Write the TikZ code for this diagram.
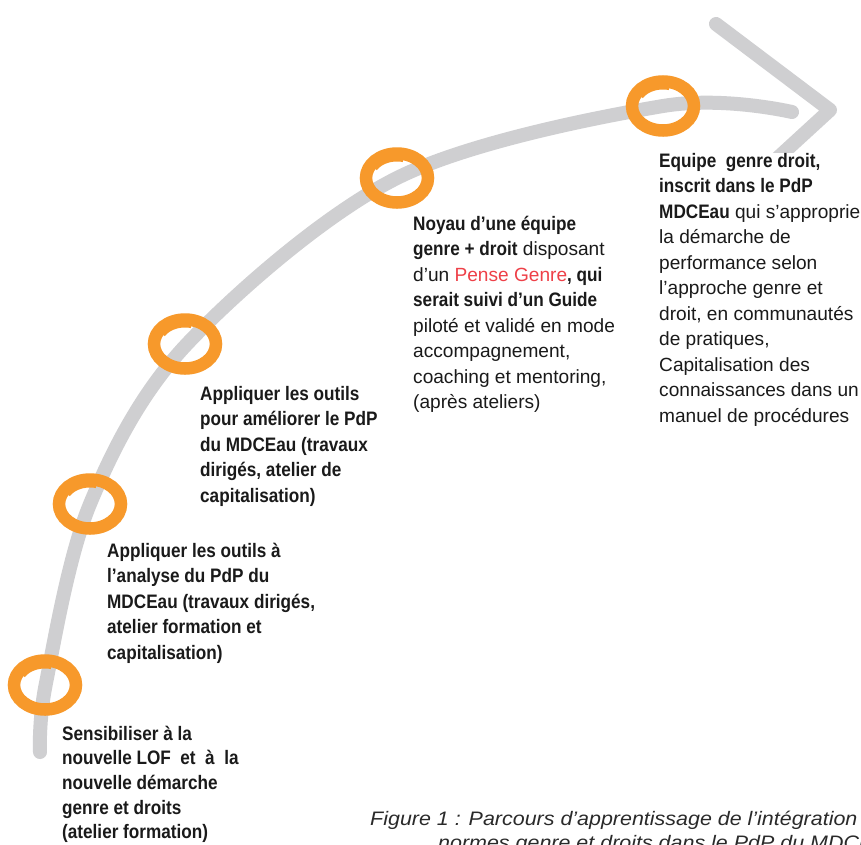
\documentclass[tikz,border=0pt]{standalone}
\usepackage{fontspec}
\setmainfont{Liberation Sans}[BoldFeatures={FakeStretch=0.88}]
\newfontfamily\capfont{Liberation Sans}[FakeStretch=1.1]
\definecolor{arcgray}{HTML}{CFCFD1}
\definecolor{ringor}{HTML}{F7992B}
\definecolor{txt}{HTML}{1A1A1A}
\definecolor{pinkred}{HTML}{EE4048}
\definecolor{capcol}{HTML}{2A2A2A}
\tikzset{
  arcline/.style={draw=arcgray, line width=14pt, line cap=round, line join=round},
  ringline/.style={draw=ringor, line width=12.5pt, line cap=butt},
  blk/.style={anchor=north west, inner sep=0pt, align=left, text=txt,
    font=\fontsize{19.1}{25.5}\selectfont},
  capstyle/.style={anchor=north west, inner sep=0pt, align=left, text=capcol,
    font=\capfont\itshape\fontsize{19.5}{25}\selectfont}
}
\newcommand\ringat[2]{%
  \draw[ringline] (#1,#2) ellipse [x radius=31pt, y radius=24.5pt];
  \draw[draw=ringor, line width=6pt, line cap=butt] plot[smooth, domain=76:150, samples=30, variable=\t]
    ({#1 + 26*cos(\t)}, {#2 - 19.5*sin(\t)});}
\begin{document}
\begin{tikzpicture}[x=1pt,y=-1pt]
\useasboundingbox (0,0) rectangle (861,844);
\clip (0,0) rectangle (861,844);
\fill[white] (0,0) rectangle (861,844);
% gray arc
\draw[arcline] plot[smooth, tension=0.55] coordinates
  {(40,752) (46,683) (90,504) (187,344) (397,178) (663,106) (792,112)};
% chevron
\coordinate (chtop) at (716,24);
\coordinate (chtip) at (830,110);
\coordinate (chend) at (770,165);
\begin{scope}
  \clip (0,0) rectangle (861,152);
  \draw[arcline] (chtop) -- (chtip) -- (chend);
\end{scope}
% rings
\ringat{45}{685}
\ringat{90}{504}
\ringat{185}{344}
\ringat{397}{178}
\ringat{663}{106}
% texts
\node[blk, font=\fontsize{19.5}{24.6}\selectfont] (t1) at (62,724) {\rule{0pt}{16pt}\textbf{Sensibiliser à la}\\
  \textbf{nouvelle LOF\ \ et\ \ à\ \ la}\\ \textbf{nouvelle démarche}\\ \textbf{genre et droits}\\
  \textbf{(atelier formation)}};
\node[blk, font=\fontsize{19.5}{25.5}\selectfont] (t2) at (107,541) {\rule{0pt}{16pt}\textbf{Appliquer les outils à}\\
  \textbf{l’analyse du PdP du}\\ \textbf{MDCEau (travaux dirigés,}\\ \textbf{atelier formation et}\\
  \textbf{capitalisation)}};
\node[blk, font=\fontsize{19.5}{25.5}\selectfont] (t3) at (200,384) {\rule{0pt}{16pt}\textbf{Appliquer les outils}\\
  \textbf{pour améliorer le PdP}\\ \textbf{du MDCEau (travaux}\\ \textbf{dirigés, atelier de}\\
  \textbf{capitalisation)}};
\node[blk] (t4) at (413,214) {\rule{0pt}{16pt}\textbf{\fontsize{19.5}{25.5}\selectfont Noyau d’une équipe}\\
  \textbf{\fontsize{19.5}{25.5}\selectfont genre + droit} disposant\\ d’un \textcolor{pinkred}{Pense Genre}\textbf{\fontsize{19.5}{25.5}\selectfont , qui}\\
  \textbf{\fontsize{19.5}{25.5}\selectfont serait suivi d’un Guide}\\ piloté et validé en mode\\ accompagnement,\\
  coaching et mentoring,\\ (après ateliers)};
\node[blk] (t5) at (659,151) {\rule{0pt}{16pt}\textbf{\fontsize{19.5}{25.5}\selectfont Equipe\ \ genre droit,}\\
  \textbf{\fontsize{19.5}{25.5}\selectfont inscrit dans le PdP}\\ \textbf{\fontsize{19.5}{25.5}\selectfont MDCEau} qui s’approprie\\ la démarche de\\
  performance selon\\ l’approche genre et\\ droit, en communautés\\ de pratiques,\\
  Capitalisation des\\ connaissances dans un\\ manuel de procédures};
% caption
\node[capstyle] (cap1) at (370,809) {\rule{0pt}{16pt}Figure 1 : Parcours d’apprentissage de l’intégration};
\node[capstyle] (cap2) at (438,833) {\rule{0pt}{16pt}normes genre et droits dans le PdP du MDCEau};
\end{tikzpicture}
\end{document}
